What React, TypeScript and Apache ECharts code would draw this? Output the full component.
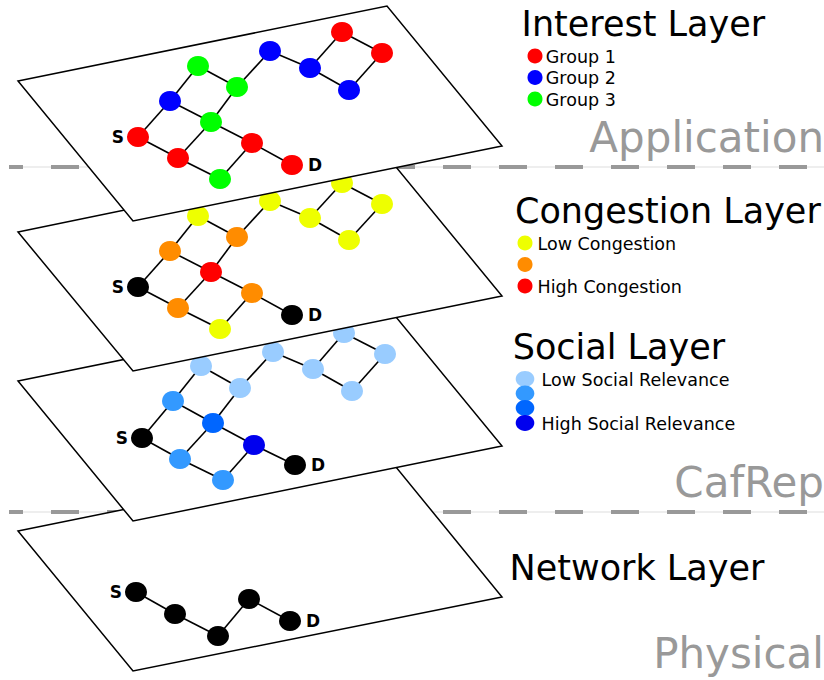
import React, { useEffect, useRef } from 'react';
import * as echarts from 'echarts';

// ---- Node positions (diagram coordinates, px) ----
const interestX = [138, 170, 198, 237, 270, 310, 342, 382, 349, 211, 178, 252, 220, 292];
const interestY = [137, 101, 66, 87, 51, 68, 32, 53, 90, 122, 158, 143, 179, 165];
const interestColors = ['red', 'blue', 'green', 'green', 'blue', 'blue', 'red', 'red', 'blue', 'green', 'red', 'red', 'green', 'red'];

const congestionX = [138, 170, 198, 237, 270, 310, 342, 382, 349, 211, 178, 252, 220, 292];
const congestionY = [287, 251, 216, 237, 201, 218, 183, 204, 240, 272, 308, 293, 329, 315];
const congestionColors = ['black', 'orange', 'yellow', 'orange', 'yellow', 'yellow', 'yellow', 'yellow', 'yellow', 'red', 'orange', 'orange', 'yellow', 'black'];

const socialX = [142, 173, 201, 240, 273, 313, 344, 385, 352, 213, 180, 254, 223, 295];
const socialY = [438, 401, 366, 388, 352, 369, 333, 354, 391, 423, 459, 445, 480, 465];
const socialColors = ['black', 'mid', 'light', 'light', 'light', 'light', 'light', 'light', 'light', 'deep', 'mid', 'dark', 'mid', 'black'];

const networkX = [136, 175, 218, 249, 290];
const networkY = [592, 614, 636, 599, 621];
const networkColors = ['black', 'black', 'black', 'black', 'black'];

// node labels (index -> text)
const meshLabels: Record<number, string> = { 0: 'S', 13: 'D' };
const networkLabels: Record<number, string> = { 0: 'S', 4: 'D' };

// ---- Edges (node index pairs) ----
const meshEdges = [
  [0, 1], [1, 2], [2, 3], [3, 4], [4, 5], [5, 6], [6, 7], [7, 8], [8, 5],
  [1, 9], [9, 3], [0, 10], [10, 9], [9, 11], [10, 12], [12, 11], [11, 13],
];
const networkEdges = [[0, 1], [1, 2], [2, 3], [3, 4]];

// ---- Layer planes (parallelogram vertices) ----
const planeInterest = [[18, 81], [387, 6], [502, 146], [133, 221]];
const planeCongestion = [[18, 232], [387, 156], [502, 296], [133, 371]];
const planeSocial = [[18, 381], [387, 306], [502, 446], [133, 521]];
const planeNetwork = [[18, 531], [387, 456], [502, 597], [133, 671]];

// ---- Texts ----
const layerTitles = ['Interest Layer', 'Congestion Layer', 'Social Layer', 'Network Layer'];
const stackLabels = ['Application', 'CafRep', 'Physical'];
const interestLegend = ['Group 1', 'Group 2', 'Group 3'];
const interestLegendColors = ['red', 'blue', 'green'];
const congestionLegend = ['Low Congestion', '', 'High Congestion'];
const congestionLegendColors = ['yellow', 'orange', 'red'];
const socialLegend = ['Low Social Relevance', '', '', 'High Social Relevance'];
const socialLegendColors = ['light', 'mid', 'deep', 'dark'];

const palette: Record<string, string> = {
  red: '#ff0000',
  blue: '#0000ff',
  green: '#00ff00',
  black: '#000000',
  yellow: '#eeff00',
  orange: '#ff8c00',
  light: '#99ccff',
  mid: '#3399ff',
  deep: '#0066ff',
  dark: '#0000ee',
};

const FONT = 'DejaVu Sans';

function layerSeries(
  k: number,
  plane: number[][],
  xs: number[],
  ys: number[],
  colors: string[],
  edges: number[][],
  labels: Record<number, string>
) {
  return [
    {
      type: 'custom',
      coordinateSystem: 'cartesian2d',
      z: 2 + 10 * k,
      silent: true,
      clip: false,
      renderItem: (_p: any, api: any) => ({
        type: 'polygon',
        shape: { points: plane.map((v) => api.coord(v)) },
        style: { fill: '#ffffff', stroke: '#000000', lineWidth: 1.5 },
      }),
      data: [plane[0]],
    },
    {
      type: 'lines',
      coordinateSystem: 'cartesian2d',
      z: 3 + 10 * k,
      silent: true,
      lineStyle: { color: '#000000', width: 1.6, opacity: 1 },
      data: edges.map(([a, b]) => ({ coords: [[xs[a], ys[a]], [xs[b], ys[b]]] })),
    },
    {
      type: 'scatter',
      z: 4 + 10 * k,
      silent: true,
      symbol: 'circle',
      symbolSize: [22, 20],
      data: xs.map((x, i) => {
        const t = labels[i];
        return {
          value: [x, ys[i]],
          itemStyle: { color: palette[colors[i]], opacity: 1 },
          label: t
            ? {
                show: true,
                formatter: t,
                position: t === 'S' ? 'left' : 'right',
                distance: t === 'S' ? 3 : 5,
                color: '#000',
                fontFamily: FONT,
                fontWeight: 'bold',
                fontSize: 17,
              }
            : { show: false },
        };
      }),
    },
  ];
}

function dashed(y: number) {
  return [
    {
      type: 'line',
      z: 0,
      silent: true,
      shape: { x1: 9, y1: y, x2: 824, y2: y },
      style: { stroke: '#dddddd', lineWidth: 1 },
    },
    {
      type: 'line',
      z: 0,
      silent: true,
      shape: { x1: 9, y1: y, x2: 824, y2: y },
      style: { stroke: '#999999', lineWidth: 4, lineDash: [28, 28], lineDashOffset: 14 },
    },
  ];
}

function text(x: number, y: number, t: string, size: number, fill: string, align = 'left') {
  return {
    type: 'text',
    x,
    y,
    z: 200,
    silent: true,
    style: {
      text: t,
      fontFamily: FONT,
      fontSize: size,
      fill,
      align,
      verticalAlign: 'middle',
    },
  };
}

function legend(cx: number, ys: number[], colors: string[], labels: string[], tx: number, rx: number, ry: number) {
  const out: any[] = [];
  ys.forEach((y, i) => {
    out.push({
      type: 'ellipse',
      z: 200,
      silent: true,
      shape: { cx, cy: y, rx, ry },
      style: { fill: palette[colors[i]] },
    });
    if (labels[i]) out.push(text(tx, y + 0.6, labels[i], 17.5, '#000'));
  });
  return out;
}

export default function App() {
  const ref = useRef<HTMLDivElement>(null);
  useEffect(() => {
    if (!ref.current) return;
    const chart = echarts.init(ref.current, undefined, { renderer: 'svg' });
    const option: any = {
      animation: false,
      grid: { left: 0, right: 0, top: 0, bottom: 0 },
      xAxis: { type: 'value', min: 0, max: 824, show: false },
      yAxis: { type: 'value', min: 0, max: 680, inverse: true, show: false },
      series: [
        ...layerSeries(0, planeNetwork, networkX, networkY, networkColors, networkEdges, networkLabels),
        ...layerSeries(1, planeSocial, socialX, socialY, socialColors, meshEdges, meshLabels),
        ...layerSeries(2, planeCongestion, congestionX, congestionY, congestionColors, meshEdges, meshLabels),
        ...layerSeries(3, planeInterest, interestX, interestY, interestColors, meshEdges, meshLabels),
      ],
      graphic: [
        ...dashed(167),
        ...dashed(512),
        text(521.6, 23.9, layerTitles[0], 35, '#000'),
        text(515, 210.9, layerTitles[1], 35, '#000'),
        text(512.7, 346.9, layerTitles[2], 35, '#000'),
        text(509.6, 567.9, layerTitles[3], 35, '#000'),
        text(824, 137.5, stackLabels[0], 42, '#999999', 'right'),
        text(824, 482.5, stackLabels[1], 42, '#999999', 'right'),
        text(824, 653.5, stackLabels[2], 42, '#999999', 'right'),
        ...legend(535, [56, 77.5, 99], interestLegendColors, interestLegend, 545.8, 7.5, 7.4),
        ...legend(525, [243, 264.5, 286], congestionLegendColors, congestionLegend, 537.6, 7.5, 7.4),
        ...legend(525, [379, 393.5, 408, 423], socialLegendColors, socialLegend, 541.6, 9.3, 7.9),
      ],
    };
    chart.setOption(option);
    return () => chart.dispose();
  }, []);
  return (
    <div
      ref={ref}
      style={{ position: 'fixed', left: 0, top: 0, width: 824, height: 680, background: '#fff' }}
    />
  );
}
